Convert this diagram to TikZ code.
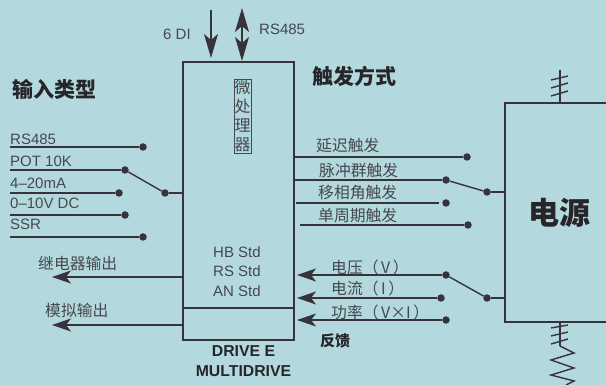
\documentclass[tikz,border=0pt]{standalone}
\usepackage{fontspec}
\setmainfont{Liberation Sans}
\newfontfamily\cjk{Noto Sans CJK SC}
\usetikzlibrary{arrows.meta}
\definecolor{bgc}{HTML}{B3D9DF}
\definecolor{ink}{HTML}{36343A}
\definecolor{txt}{HTML}{45484C}
\definecolor{hd}{HTML}{26262A}
\tikzset{
  x=1pt,y=-1pt,
  wire/.style={draw=ink,line width=1.4pt},
  thin wire/.style={draw=ink,line width=1.1pt},
  dot/.style={circle,fill=ink,inner sep=0pt,minimum size=7.5pt},
  lab/.style={text=txt,inner sep=0pt,anchor=west,font=\fontsize{15}{15}\selectfont},
  clab/.style={text=txt,inner sep=0pt,anchor=west,font=\fontsize{15.8}{16}\selectfont\cjk},
  head/.style={text=hd,inner sep=0pt,anchor=west,font=\fontsize{21}{21}\selectfont\cjk\bfseries},
  arr/.style={wire,-{Stealth[length=19pt,width=13pt,inset=5pt]}},
  arrv/.style={wire,-{Stealth[length=24pt,width=14pt,inset=6pt]}},
  arrd/.style={wire,{Stealth[length=24pt,width=14pt,inset=6pt]}-{Stealth[length=24pt,width=14pt,inset=6pt]}},
}
\begin{document}
\begin{tikzpicture}
\useasboundingbox (0,0) rectangle (606,385);
\fill[bgc] (0,0) rectangle (606,385);

% main box
\draw[wire] (183,62) rectangle (294,340);
\coordinate (boxL) at (183,0);
\coordinate (boxR) at (294,0);
\draw[thin wire] (183,308) -- (294,308);
\node[draw=txt,line width=.5pt,minimum width=17pt,minimum height=74pt,inner sep=0pt] (cpu) at (242.5,116) {};
\foreach \c/\y in {微/87,处/106,理/126,器/145}{
  \node[text=txt,inner sep=0pt,font=\fontsize{16}{16}\selectfont\cjk] at (242.5,\y) {\c};
}

% top arrows
\coordinate (di0) at (211,10); \coordinate (di1) at (211,58);
\coordinate (rs0) at (242,8); \coordinate (rs1) at (242,61);
\draw[arrv] (di0) -- (di1);
\draw[arrd] (rs0) -- (rs1);
\node[lab] (tdi) at (163,34) {6 DI};
\node[lab] (trs) at (259,29) {RS485};

% headings
\node[head] (h1) at (12,89) {输入类型};
\node[head] (h2) at (312,76) {触发方式};

% input types
\foreach \n/\t/\ty/\ly/\dx in {a/RS485/139/147/143, b/POT 10K/161/170/125, c/4–20mA/183/193/119, d/0–10V DC/203/215/125, e/SSR/224/237/143}{
  \node[lab] (t\n) at (10,\ty) {\t};
  \node[dot] (d\n) at (\dx,\ly) {};
  \draw[wire] (10,\ly) -- (d\n);
}
\node[dot] (sw1) at (165,193) {};
\draw[wire] (db) -- (sw1);
\draw[wire] (sw1) -- (sw1 -| boxL);

% outputs
\coordinate (o1) at (52,277); \coordinate (o2) at (52,325);
\draw[arr] (o1 -| boxL) -- (o1);
\draw[arr] (o2 -| boxL) -- (o2);
\node[clab] (t1) at (38,263) {继电器输出};
\node[clab] (t2) at (45,310) {模拟输出};

% trigger modes
\node[clab] (f1) at (316,146) {延迟触发};
\node[clab] (f2) at (319,170) {脉冲群触发};
\node[clab] (f3) at (318,193) {移相角触发};
\node[clab] (f4) at (318,216) {单周期触发};
\node[dot] (g1) at (467,157) {};
\node[dot] (g2) at (446,180) {};
\node[dot] (g3) at (446,203) {};
\node[dot] (g4) at (468,225) {};
\draw[wire] (g1 -| boxR) -- (g1);
\draw[wire] (g2 -| boxR) -- (g2);
\draw[wire] (296,203) -- (439,203);
\draw[wire] (300,225) -- (g4);
\node[dot] (sw2) at (487,192) {};
\draw[wire] (g2) -- (sw2);

% power box
\draw[wire] (606,103) -- (505,103) -- (505,322) -- (606,322);
\coordinate (pL) at (505,0);
\draw[wire] (sw2) -- (sw2 -| pL);
\node[text=hd,inner sep=0pt,font=\fontsize{31}{31}\selectfont\cjk\bfseries] (pw) at (559,213) {电源};

% feedback
\node[dot] (k1) at (446,275) {};
\node[dot] (k2) at (441,298) {};
\node[dot] (k3) at (446,320) {};
\coordinate (tip) at (297,0);
\draw[arr] (k1) -- (k1 -| tip);
\draw[arr] (k2) -- (k2 -| tip);
\draw[arr] (k3) -- (k3 -| tip);
\node[dot] (sw3) at (487,298) {};
\draw[wire] (k1) -- (sw3);
\draw[wire] (sw3) -- (sw3 -| pL);
\node[clab] (v1) at (331,267) {电压（\,V\,）};
\node[clab] (v2) at (331,288) {电流（\,I\,）};
\node[clab] (v3) at (331,312) {功率（\,V×I\,）};
\node[text=hd,inner sep=0pt,anchor=west,font=\fontsize{15}{15}\selectfont\cjk\bfseries] (fb) at (320,341) {反馈};

% ratings
\node[lab] (r1) at (213,252) {HB Std};
\node[lab] (r2) at (213,271) {RS Std};
\node[lab] (r3) at (213,291) {AN Std};
\node[text=hd,inner sep=0pt,font=\fontsize{15.8}{16}\selectfont\bfseries] (m1) at (243.5,351) {DRIVE E};
\node[text=hd,inner sep=0pt,font=\fontsize{15.8}{16}\selectfont\bfseries] (m2) at (243.5,371) {MULTIDRIVE};

% phase marks
\draw[wire] (560,70) -- (560,103);
\draw[wire] (551,80) -- (568,76);
\draw[wire] (551,88) -- (568,83);
\draw[wire] (551,96) -- (568,91);
\draw[wire] (560,322) -- (560,346);
\draw[wire] (551,328) -- (568,325);
\draw[wire] (551,336) -- (568,332);
\draw[wire] (551,344) -- (568,339);
\draw[wire] (560,346) -- (574,353) -- (551,360) -- (574,368) -- (551,375) -- (574,381) -- (566,385);
\end{tikzpicture}
\end{document}
